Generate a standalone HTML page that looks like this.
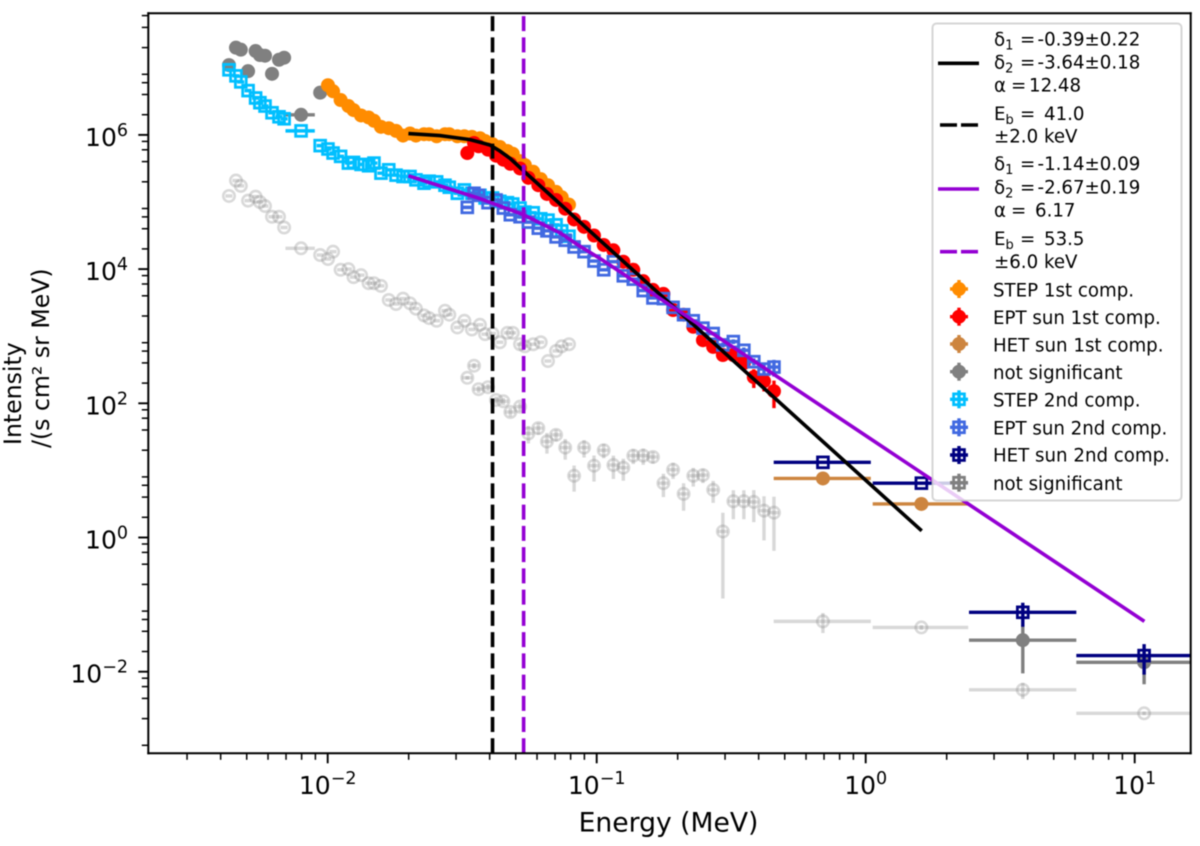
<!DOCTYPE html>
<html lang="en">
<head>
<meta charset="utf-8">
<title>Electron peak intensity spectrum</title>
<style>
html,body{margin:0;padding:0;background:#fff;}
svg{display:block;filter:blur(0.4px);}
text{font-family:"DejaVu Sans","Liberation Sans",sans-serif;fill:#000;white-space:pre;}
.leg{font-size:18.2px;}
.sub{font-size:13px;}
</style>
</head>
<body>
<svg id="chart" width="1200" height="846" viewBox="0 0 1200 846" xmlns="http://www.w3.org/2000/svg">
<defs><clipPath id="plot-clip"><rect x="148.3" y="13.3" width="1042.4" height="740"/></clipPath></defs>
<rect x="0" y="0" width="1200" height="846" fill="#fff"/>
<g id="marks" clip-path="url(#plot-clip)"></g>
<g id="fits" clip-path="url(#plot-clip)"></g>
<g id="axes"></g>
<text x="668.5" y="831.5" text-anchor="middle" font-size="26.6">Energy (MeV)</text>
<text transform="translate(21,445) rotate(-90)" font-size="23.6">Intensity</text>
<text transform="translate(49,448) rotate(-90)" font-size="23.6">/(s cm² sr MeV)</text>

<g>
  <rect x="932.5" y="23.5" width="249" height="477" rx="4" ry="4" fill="#fff" fill-opacity="0.8" stroke="#ccc" stroke-opacity="0.8" stroke-width="2"/>
  <g>
    <line x1="938" x2="979" y1="63.3" y2="63.3" stroke="#000" stroke-width="3.6"/>
    <text class="leg" x="994" y="45.7">δ<tspan class="sub" dy="4">1</tspan><tspan x="1020" dy="-4">=</tspan><tspan x="1037.5">-0.39±0.22</tspan></text>
    <text class="leg" x="994" y="68.3">δ<tspan class="sub" dy="4">2</tspan><tspan x="1020" dy="-4">=</tspan><tspan x="1037.5">-3.64±0.18</tspan></text>
    <text class="leg" x="994" y="91.7">α<tspan x="1011">=</tspan><tspan x="1029">12.48</tspan></text>
  </g>
  <g>
    <line x1="940" x2="978" y1="125" y2="125" stroke="#000" stroke-width="3.6" stroke-dasharray="17 4"/>
    <text class="leg" x="994" y="120">E<tspan class="sub" dy="4">b</tspan><tspan x="1020" dy="-4">=</tspan><tspan x="1044">41.0</tspan></text>
    <text class="leg" x="994" y="142.3">±2.0 keV</text>
  </g>
  <g>
    <line x1="938" x2="979" y1="189" y2="189" stroke="#9400d3" stroke-width="3.6"/>
    <text class="leg" x="994" y="170">δ<tspan class="sub" dy="4">1</tspan><tspan x="1020" dy="-4">=</tspan><tspan x="1037.5">-1.14±0.09</tspan></text>
    <text class="leg" x="994" y="193.3">δ<tspan class="sub" dy="4">2</tspan><tspan x="1020" dy="-4">=</tspan><tspan x="1037.5">-2.67±0.19</tspan></text>
    <text class="leg" x="994" y="216.7">α<tspan x="1011">=</tspan><tspan x="1035">6.17</tspan></text>
  </g>
  <g>
    <line x1="940" x2="978" y1="251.7" y2="251.7" stroke="#9400d3" stroke-width="3.6" stroke-dasharray="17 4"/>
    <text class="leg" x="994" y="245">E<tspan class="sub" dy="4">b</tspan><tspan x="1020" dy="-4">=</tspan><tspan x="1044">53.5</tspan></text>
    <text class="leg" x="994" y="268">±6.0 keV</text>
  </g>
  <g>
    <g id="lk0"></g><text class="leg" x="993" y="296.7">STEP 1st comp.</text>
  </g>
  <g>
    <g id="lk1"></g><text class="leg" x="993" y="324">EPT sun 1st comp.</text>
  </g>
  <g>
    <g id="lk2"></g><text class="leg" x="993" y="351.7">HET sun 1st comp.</text>
  </g>
  <g>
    <g id="lk3"></g><text class="leg" x="993" y="379">not significant</text>
  </g>
  <g>
    <g id="lk4"></g><text class="leg" x="993" y="406.7">STEP 2nd comp.</text>
  </g>
  <g>
    <g id="lk5"></g><text class="leg" x="993" y="434.3">EPT sun 2nd comp.</text>
  </g>
  <g>
    <g id="lk6"></g><text class="leg" x="993" y="461.7">HET sun 2nd comp.</text>
  </g>
  <g>
    <g id="lk7"></g><text class="leg" x="993" y="490">not significant</text>
  </g>
</g>
</svg>

<script>
// All spectra are stored as log10(energy / MeV) and log10(intensity).
const xTickExponents = [-2, -1, 0, 1];
const yTickExponents = [-2, 0, 2, 4, 6];
const xMinorDecades = [-3, -2, -1, 0, 1];
const xMinorSubs = [2, 3, 4, 5, 6, 7, 8, 9];
const yMinorDecades = [-4, -3, -2, -1, 0, 1, 2, 3, 4, 5, 6, 7];
const yMinorSubs = [2, 4, 6, 8];

const stepLogE = [-2.367,-2.341,-2.323,-2.296,-2.268,-2.252,-2.233,-2.207,-2.181,-2.162,-2.099,-2.028,-1.999,-1.980,-1.952,-1.923,-1.904,-1.876,-1.848,-1.828,-1.802,-1.773,-1.746,-1.720,-1.694,-1.672,-1.642,-1.623,-1.595,-1.564,-1.548,-1.518,-1.492,-1.464,-1.434,-1.415,-1.387,-1.360,-1.332,-1.312,-1.285,-1.267,-1.236,-1.208,-1.181,-1.151,-1.130,-1.103];
const stepRelWidth = [.03,.03,.03,.03,.03,.03,.03,.03,.03,.03,.125,.03,.03,.03,.03,.03,.03,.03,.03,.03,.03,.03,.03,.03,.03,.03,.03,.03,.03,.03,.03,.03,.03,.03,.03,.03,.03,.03,.03,.03,.03,.03,.03,.03,.03,.03,.03,.03];
const stepNotSigLogI = [7.04,7.30,7.27,6.95,7.25,7.19,7.18,6.91,7.12,7.15,6.30,6.63];
const stepFirstLogI = [6.74,6.65,6.52,6.43,6.37,6.29,6.26,6.21,6.12,6.10,6.06,5.99,6.02,5.99,6.01,6.01,5.98,6.01,6.01,5.98,5.98,5.97,5.95,5.91,5.86,5.82,5.76,5.72,5.61,5.55,5.45,5.34,5.25,5.15,5.07,4.96];
const stepSecondLogI = [6.97,6.88,6.79,6.66,6.55,6.48,6.43,6.33,6.27,6.24,6.06,5.84,5.79,5.73,5.68,5.58,5.59,5.56,5.54,5.58,5.43,5.48,5.40,5.38,5.38,5.33,5.28,5.31,5.30,5.25,5.22,5.13,5.18,5.13,5.10,5.06,5.06,5.01,4.99,4.97,4.91,4.85,4.84,4.75,4.73,4.66,4.57,4.49];
const stepFaintLogI = [5.09,5.32,5.24,5.02,5.08,5.00,4.94,4.78,4.78,4.62,4.31,4.21,4.15,4.26,3.99,4.00,3.88,3.91,3.79,3.79,3.75,3.54,3.48,3.56,3.49,3.41,3.31,3.27,3.23,3.38,3.32,3.13,3.23,3.10,3.17,3.03,3.04,2.91,3.05,3.05,2.88,2.85,2.88,2.91,2.63,2.78,2.85,2.88];

const eptLogE = [-1.481,-1.456,-1.439,-1.404,-1.374,-1.347,-1.321,-1.285,-1.254,-1.217,-1.185,-1.151,-1.117,-1.084,-1.047,-1.010,-0.974,-0.938,-0.901,-0.864,-0.827,-0.791,-0.752,-0.716,-0.677,-0.641,-0.605,-0.567,-0.531,-0.492,-0.453,-0.416,-0.378,-0.341];
const eptHalfWidth = 0.044;
const eptFirstLogI = [5.73,5.88,5.83,5.78,5.69,5.63,5.57,5.50,5.36,5.25,5.12,5.03,4.90,4.74,4.63,4.50,4.36,4.28,4.11,3.99,3.82,3.69,3.63,3.39,3.32,3.14,2.94,2.84,2.72,2.72,2.60,2.39,2.33,2.18];
const eptFirstRelErr = [.02,.02,.02,.02,.02,.02,.02,.02,.02,.02,.02,.02,.02,.02,.02,.02,.02,.03,.03,.03,.03,.03,.04,.04,.05,.05,.06,.08,.08,.12,.15,.31,.30,.44];
const eptSecondLogI = [4.92,5.13,5.10,4.99,5.03,4.91,4.81,4.78,4.70,4.61,4.57,4.48,4.43,4.33,4.26,4.12,3.99,4.11,3.90,3.85,3.68,3.57,3.56,3.43,3.32,3.23,3.12,3.04,2.87,2.92,2.79,2.62,2.51,2.54];
const eptSecondRelErr = [.02,.02,.02,.02,.02,.02,.02,.02,.02,.02,.02,.02,.02,.02,.02,.02,.02,.03,.03,.03,.03,.03,.04,.04,.05,.05,.06,.06,.08,.08,.1,.12,.15,.28];
const eptFaintLogI = [2.38,2.56,2.21,2.24,2.05,2.03,1.87,1.95,1.55,1.63,1.43,1.53,1.34,0.92,1.34,1.07,1.30,1.08,1.04,1.22,1.22,1.20,0.81,1.01,0.65,0.92,0.93,0.71,0.09,0.54,0.54,0.53,0.40,0.37];
const eptFaintRelErr = [.06,.1,.12,.12,.12,.12,.15,.15,.29,.2,.34,.2,.34,.42,.29,.42,.24,.38,.36,.25,.27,.2,.38,.27,.44,.31,.24,.36,.9,.46,.46,.5,.64,.73];

const hetLogE = [-0.159,0.207,0.584,1.035];
const hetLogELo = [-0.342,0.026,0.384,0.783];
const hetLogEHi = [0.019,0.381,0.783,1.28];
const hetFirstLogE = [-0.159,0.207];
const hetFirstLogELo = [-0.342,0.026];
const hetFirstLogEHi = [0.019,0.381];
const hetFirstLogI = [0.88,0.50];
const hetNotSigLogE = [0.584,1.035];
const hetNotSigLogELo = [0.384,0.783];
const hetNotSigLogEHi = [0.783,1.28];
const hetNotSigLogI = [-1.53,-1.86];
const hetNotSigRelErr = [.68,.53];
const hetSecondLogI = [1.12,0.81,-1.115,-1.76];
const hetSecondRelErr = [.03,.05,.39,.48];
const hetFaintLogI = [-1.25,-1.34,-2.27,-2.62];
const hetFaintRelErr = [.33,.08,.27,.06];

const fit1LogE = [-1.700,-1.583,-1.471,-1.434,-1.397,-1.360,-1.322,-1.260,-1.136,-0.988,0.208];
const fit1LogI = [6.02,5.99,5.93,5.89,5.85,5.76,5.65,5.42,4.97,4.43,0.10];
const fit2LogE = [-1.700,-1.583,-1.434,-1.273,-1.136,-1.062,-0.988,1.036];
const fit2LogI = [5.39,5.24,5.05,4.81,4.54,4.34,4.16,-1.25];
const breakEnergyMeV = [0.041,0.0535];

const NS = 'http://www.w3.org/2000/svg';
const sx = v => 327.7 + 269 * (v + 2);
const sy = v => 671.7 - 67.1 * (v + 2);
const plotTop = 13.3, plotBottom = 753.3, plotLeft = 148.3, plotRight = 1190.7;
const marks = document.getElementById('marks');
const fits = document.getElementById('fits');
const axes = document.getElementById('axes');

function make(tag, attrs, parent, text) {
  const e = document.createElementNS(NS, tag);
  for (const k in attrs) e.setAttribute(k, attrs[k]);
  if (text !== undefined) e.textContent = text;
  if (parent) parent.appendChild(e);
  return e;
}

function drawPoint(g, px, py, xl, xr, yt, yb, style) {
  const common = {stroke: style.color, 'stroke-width': 3.4, opacity: style.opacity};
  if (xr > xl) make('line', Object.assign({x1: xl, x2: xr, y1: py, y2: py}, common), g);
  if (yb > yt) make('line', Object.assign({x1: px, x2: px, y1: yt, y2: yb}, common), g);
  if (style.shape === 'circle') {
    make('circle', {cx: px, cy: py, r: 7, fill: style.color, opacity: style.opacity}, g);
  } else if (style.shape === 'ring') {
    make('circle', {cx: px, cy: py, r: 5.7, fill: 'none', stroke: style.color, 'stroke-width': 2.6, opacity: style.opacity}, g);
  } else {
    make('rect', {x: px - 5.4, y: py - 5.4, width: 10.8, height: 10.8, fill: 'none', stroke: style.color, 'stroke-width': 2.8, opacity: style.opacity}, g);
  }
}

function drawSeries(name, logE, logI, loE, hiE, relErr, style) {
  const group = make('g', {}, marks);
  
  
  logI.forEach((v, i) => {
    const e = relErr ? relErr[i] : 0;
    const dn = e > 0 ? Math.log10(1 - Math.min(e, 0.99)) : 0;
    const up = e > 0 ? Math.log10(1 + e) : 0;
    const g = make('g', {}, group);
    
    
    drawPoint(g, sx(logE[i]), sy(v), sx(loE[i]), sx(hiE[i]), sy(v + up), sy(v + dn), style);
  });
}

const stepLo = stepLogE.map((v, i) => v + Math.log10(1 - stepRelWidth[i]));
const stepHi = stepLogE.map((v, i) => v + Math.log10(1 + stepRelWidth[i]));
const eptLo = eptLogE.map(v => v + Math.log10(1 - eptHalfWidth));
const eptHi = eptLogE.map(v => v + Math.log10(1 + eptHalfWidth));

const grayFaint = {color: '#808080', opacity: 0.3, shape: 'ring'};
drawSeries('step-faint-series', stepLogE, stepFaintLogI, stepLo, stepHi, null, grayFaint);
drawSeries('ept-faint-series', eptLogE, eptFaintLogI, eptLo, eptHi, eptFaintRelErr, grayFaint);
drawSeries('het-faint-series', hetLogE, hetFaintLogI, hetLogELo, hetLogEHi, hetFaintRelErr, grayFaint);
const graySolid = {color: '#808080', opacity: 1, shape: 'circle'};
drawSeries('step-not-significant-series', stepLogE.slice(0, 12), stepNotSigLogI, stepLo.slice(0, 12), stepHi.slice(0, 12), null, graySolid);
drawSeries('het-not-significant-series', hetNotSigLogE, hetNotSigLogI, hetNotSigLogELo, hetNotSigLogEHi, hetNotSigRelErr, graySolid);
drawSeries('step-first-series', stepLogE.slice(12), stepFirstLogI, stepLo.slice(12), stepHi.slice(12), null, {color: '#ff8c00', opacity: 1, shape: 'circle'});
drawSeries('ept-first-series', eptLogE, eptFirstLogI, eptLo, eptHi, eptFirstRelErr, {color: '#ff0000', opacity: 1, shape: 'circle'});
drawSeries('het-first-series', hetFirstLogE, hetFirstLogI, hetFirstLogELo, hetFirstLogEHi, null, {color: '#cd853f', opacity: 1, shape: 'circle'});
drawSeries('step-second-series', stepLogE, stepSecondLogI, stepLo, stepHi, null, {color: '#00bfff', opacity: 1, shape: 'square'});
drawSeries('ept-second-series', eptLogE, eptSecondLogI, eptLo, eptHi, eptSecondRelErr, {color: '#4169e1', opacity: 1, shape: 'square'});
drawSeries('het-second-series', hetLogE, hetSecondLogI, hetLogELo, hetLogEHi, hetSecondRelErr, {color: '#000080', opacity: 1, shape: 'square'});

function drawFit(name, logE, logI, color) {
  const pts = logE.map((v, i) => sx(v).toFixed(1) + ',' + sy(logI[i]).toFixed(1)).join(' ');
  const line = make('polyline', {points: pts, fill: 'none', stroke: color, 'stroke-width': 3.6}, fits);
  
  
}
drawFit('fit-line-1', fit1LogE, fit1LogI, '#000000');
drawFit('fit-line-2', fit2LogE, fit2LogI, '#9400d3');

const breakColors = ['#000000', '#9400d3'];
breakEnergyMeV.forEach((energy, i) => {
  const px = sx(Math.log10(energy));
  const line = make('line', {x1: px, x2: px, y1: plotBottom, y2: plotTop, stroke: breakColors[i], 'stroke-width': 3.6, 'stroke-dasharray': '15 6.24'}, fits);
  
  
});

// spines
[[plotLeft, plotTop, plotLeft, plotBottom], [plotRight, plotTop, plotRight, plotBottom], [plotLeft, plotTop, plotRight, plotTop], [plotLeft, plotBottom, plotRight, plotBottom]].forEach(s => {
  const spine = make('line', {x1: s[0], y1: s[1], x2: s[2], y2: s[3], stroke: '#000', 'stroke-width': 2, 'stroke-linecap': 'square'}, axes);
  
  
});

// ticks
xMinorDecades.forEach(d => xMinorSubs.forEach(s => {
  const px = sx(d + Math.log10(s));
  if (px < plotLeft || px > plotRight) return;
  const t = make('line', {x1: px, x2: px, y1: plotBottom, y2: plotBottom + 6.5, stroke: '#000', 'stroke-width': 1.5}, axes);
  
  
}));
yMinorDecades.forEach(d => yMinorSubs.forEach(s => {
  const py = sy(d + Math.log10(s));
  if (py < plotTop || py > plotBottom) return;
  const t = make('line', {x1: plotLeft, x2: plotLeft - 6.5, y1: py, y2: py, stroke: '#000', 'stroke-width': 1.5}, axes);
  
  
}));

function powerLabel(parent, x, y, anchor, exp, name) {
  const txt = make('text', {x: x, y: y, 'text-anchor': anchor, 'font-size': 25}, parent);
  
  
  make('tspan', {}, txt, '10');
  make('tspan', {dy: -10, 'font-size': 17.5}, txt, (exp < 0 ? '\u2212' : '') + Math.abs(exp));
}
xTickExponents.forEach(e => {
  const px = sx(e);
  const t = make('line', {x1: px, x2: px, y1: plotBottom, y2: plotBottom + 10, stroke: '#000', 'stroke-width': 1.9}, axes);
  
  
  powerLabel(axes, px, 794, 'middle', e, 'x-tick-label');
});
yTickExponents.forEach(e => {
  const py = sy(e);
  const t = make('line', {x1: plotLeft, x2: plotLeft - 10, y1: py, y2: py, stroke: '#000', 'stroke-width': 1.9}, axes);
  
  
  powerLabel(axes, 128, py + 11, 'end', e, 'y-tick-label');
});

// legend keys
const legendKeys = [
  {color: '#ff8c00', y: 289, shape: 'circle'},
  {color: '#ff0000', y: 316.7, shape: 'circle'},
  {color: '#cd853f', y: 344, shape: 'circle'},
  {color: '#808080', y: 371.7, shape: 'circle'},
  {color: '#00bfff', y: 399.3, shape: 'square'},
  {color: '#4169e1', y: 427.3, shape: 'square'},
  {color: '#000080', y: 455, shape: 'square'},
  {color: '#808080', y: 482.7, shape: 'square'}
];
legendKeys.forEach((k, i) => {
  const g = document.getElementById('lk' + i);
  
  
  drawPoint(g, 959, k.y, 950, 968, k.y - 9, k.y + 9, {color: k.color, opacity: 1, shape: k.shape});
});
</script>
</body>
</html>
